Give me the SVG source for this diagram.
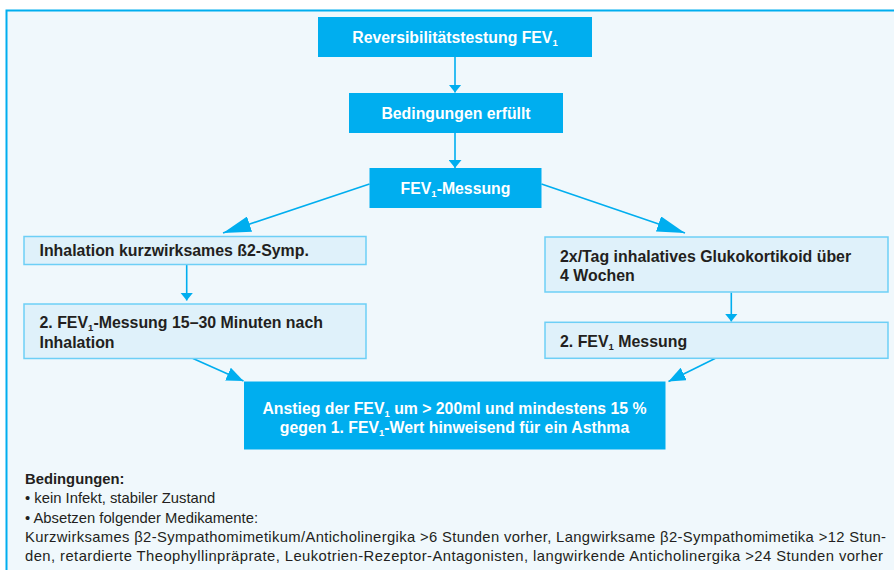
<svg xmlns="http://www.w3.org/2000/svg" width="894" height="570" viewBox="0 0 894 570">
<style>
.frame{fill:#f0f8fc;stroke:#00aeef;stroke-width:2}
.dark{fill:#00aeef}
.light{fill:#dff1fa;stroke:#6dcff6;stroke-width:1.5}
.wt{font-family:"Liberation Sans",Arial,sans-serif;font-weight:bold;font-size:15.8px;fill:#ffffff;text-anchor:middle}
.bt{font-family:"Liberation Sans",Arial,sans-serif;font-weight:bold;font-size:15.9px;fill:#231f20}
.nt{font-family:"Liberation Sans",Arial,sans-serif;font-size:14.8px;fill:#231f20}
.sub{font-size:9.5px}
.conn line{stroke:#00aeef;stroke-width:1.6;fill:none}
</style>
<defs>
<marker id="ahS" markerUnits="userSpaceOnUse" viewBox="0 0 8 13" markerWidth="8" markerHeight="13" refX="8" refY="6.5" orient="auto"><path d="M0,0 L8,6.5 L0,13 z" fill="#00aeef"/></marker>
<marker id="ahM" markerUnits="userSpaceOnUse" viewBox="0 0 17 14" markerWidth="17" markerHeight="14" refX="17" refY="7" orient="auto"><path d="M0,0 L17,7 L0,14 z" fill="#00aeef"/></marker>
<marker id="ahL" markerUnits="userSpaceOnUse" viewBox="0 0 28 16" markerWidth="28" markerHeight="16" refX="28" refY="8" orient="auto"><path d="M0,0 L28,8 L0,16 z" fill="#00aeef"/></marker>
</defs>
<rect class="frame" x="6.5" y="10.5" width="900" height="580"/>

<g id="connectors" class="conn">
<line x1="455" y1="57" x2="455" y2="92.5" marker-end="url(#ahS)"/>
<line x1="455" y1="133" x2="455" y2="168" marker-end="url(#ahS)"/>
<line x1="369.5" y1="184" x2="223" y2="233" marker-end="url(#ahL)"/>
<line x1="541.5" y1="184" x2="685" y2="233" marker-end="url(#ahL)"/>
<line x1="186.7" y1="264.5" x2="186.7" y2="300.5" marker-end="url(#ahS)"/>
<line x1="731.3" y1="292.5" x2="731.3" y2="321.5" marker-end="url(#ahS)"/>
<line x1="193" y1="358.5" x2="243.5" y2="381" marker-end="url(#ahM)"/>
<line x1="715" y1="358.5" x2="668.5" y2="381.5" marker-end="url(#ahM)"/>
</g>

<g id="n-reversibilitaet">
<rect class="dark" x="318" y="17" width="274" height="40"/>
<text class="wt" x="455" y="43">Reversibilitätstestung FEV<tspan class="sub" dy="3">1</tspan></text>
</g>
<g id="n-bedingungen">
<rect class="dark" x="349" y="93" width="214" height="40"/>
<text class="wt" x="456" y="118.5">Bedingungen erfüllt</text>
</g>
<g id="n-fev-messung">
<rect class="dark" x="369.5" y="168" width="172" height="40"/>
<text class="wt" x="455.5" y="194">FEV<tspan class="sub" dy="3">1</tspan><tspan dy="-3">-Messung</tspan></text>
</g>
<g id="n-inhalation">
<rect class="light" x="24" y="236.5" width="342" height="28"/>
<text class="bt" x="39.5" y="256.2">Inhalation kurzwirksames ß2-Symp.</text>
</g>
<g id="n-fev2-links">
<rect class="light" x="24" y="304" width="342" height="54.5"/>
<text class="bt" x="39.5" y="328.2">2. FEV<tspan class="sub" dy="3">1</tspan><tspan dy="-3">-Messung 15–30 Minuten nach</tspan></text>
<text class="bt" x="39.5" y="347.5">Inhalation</text>
</g>
<g id="n-glukokortikoid">
<rect class="light" x="545" y="237" width="343" height="55"/>
<text class="bt" x="560" y="262.2">2x/Tag inhalatives Glukokortikoid über</text>
<text class="bt" x="560" y="281">4 Wochen</text>
</g>
<g id="n-fev2-rechts">
<rect class="light" x="545" y="322.3" width="343" height="36"/>
<text class="bt" x="560" y="347">2. FEV<tspan class="sub" dy="3">1</tspan><tspan dy="-3"> Messung</tspan></text>
</g>
<g id="n-anstieg">
<rect class="dark" x="244" y="381.5" width="421.5" height="68"/>
<text class="wt" x="454.5" y="413.5">Anstieg der FEV<tspan class="sub" dy="3">1</tspan><tspan dy="-3"> um &gt; 200ml und mindestens 15 %</tspan></text>
<text class="wt" x="454.5" y="432.5">gegen 1. FEV<tspan class="sub" dy="3">1</tspan><tspan dy="-3">-Wert hinweisend für ein Asthma</tspan></text>
</g>

<g id="notes">
<text class="nt" x="25" y="484" font-weight="bold" font-size="14px">Bedingungen:</text>
<text class="nt" x="25" y="503">• kein Infekt, stabiler Zustand</text>
<text class="nt" x="25" y="523">• Absetzen folgender Medikamente:</text>
<text class="nt" x="25" y="542" textLength="861" lengthAdjust="spacing">Kurzwirksames β2-Sympathomimetikum/Anticholinergika &gt;6 Stunden vorher, Langwirksame β2-Sympathomimetika &gt;12 Stun-</text>
<text class="nt" x="25" y="561" textLength="858" lengthAdjust="spacing">den, retardierte Theophyllinpräprate, Leukotrien-Rezeptor-Antagonisten, langwirkende Anticholinergika &gt;24 Stunden vorher</text>
</g>
</svg>
